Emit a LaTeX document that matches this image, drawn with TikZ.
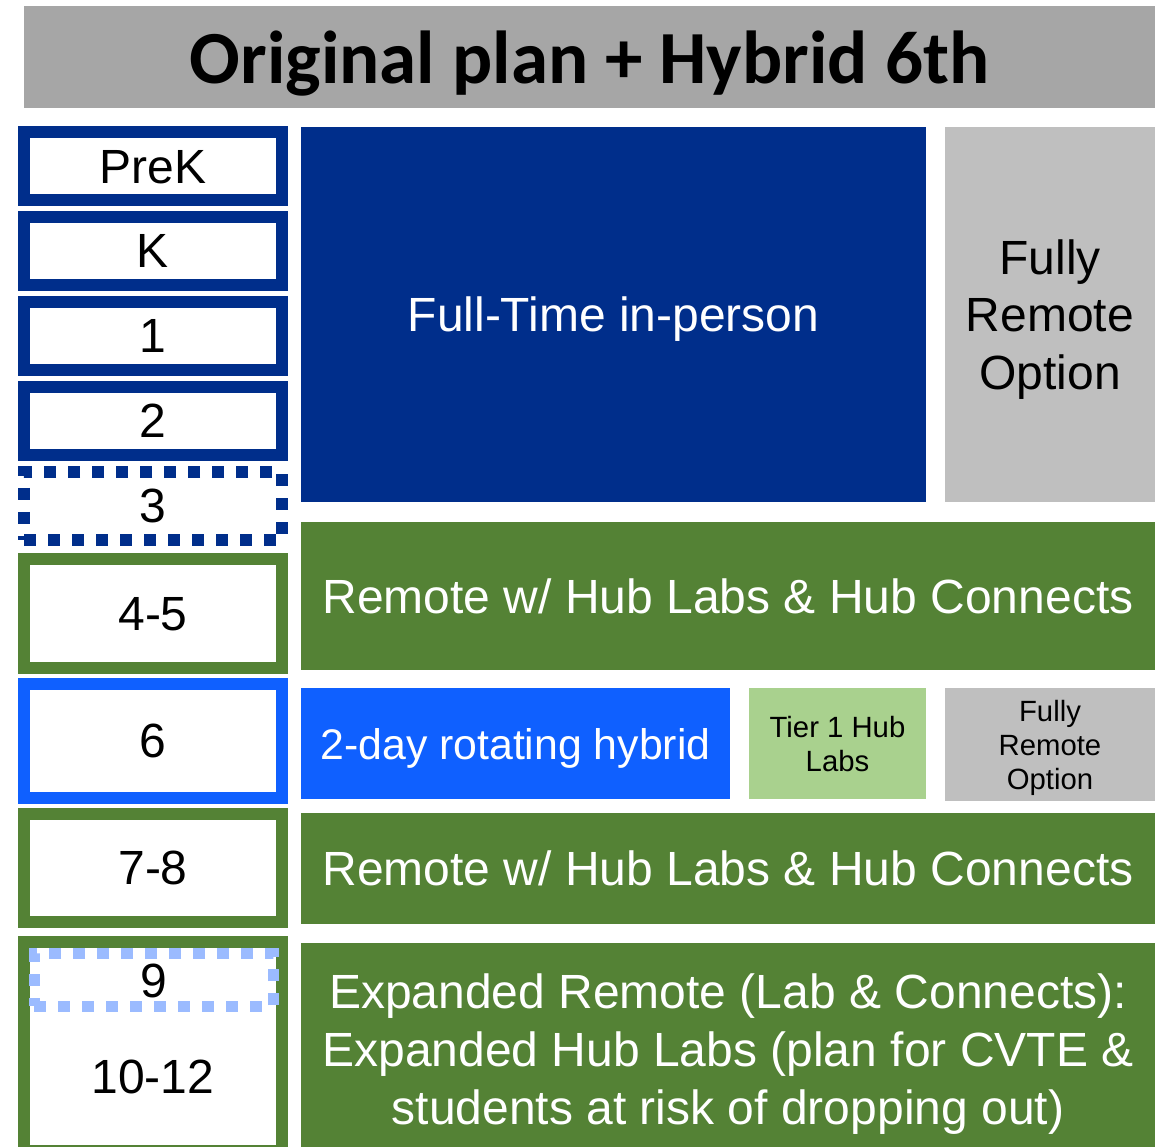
\documentclass[tikz,border=0pt]{standalone}
\usepackage{fontspec}
\setmainfont{Liberation Sans}
\newfontfamily\titlefont{Carlito}
\definecolor{navy}{RGB}{0,46,139}
\definecolor{brightblue}{RGB}{15,96,255}
\definecolor{hubgreen}{RGB}{84,130,53}
\definecolor{lightgreen}{RGB}{169,209,142}
\definecolor{remotegray}{RGB}{191,191,191}
\definecolor{titlegray}{RGB}{166,166,166}
\definecolor{paleblue}{RGB}{155,187,255}

\begin{document}
\begin{tikzpicture}[x=1pt,y=-1pt,
	grade/.style={draw, line width=12, fill=white, minimum width=258, minimum height=68, inner sep=0, outer sep=0, text depth=0pt, font=\fontsize{48}{58}\selectfont},
	dotbox/.style={grade, dash pattern=on 12pt off 12pt},
	block/.style={inner sep=0, outer sep=0, align=center, text=white, text depth=0pt, font=\fontsize{48}{58}\selectfont},
	smallblock/.style={block, text=black, font=\fontsize{29.3}{34}\selectfont}
]
\useasboundingbox (0,0) rectangle (1163,1147);

\node[fill=titlegray, minimum width=1131, minimum height=102, inner sep=0, text depth=0pt] (title) at (589.5,57.5) {\titlefont\bfseries\fontsize{75}{90}\selectfont Original plan + Hybrid 6th};

% grades
\node[grade, draw=navy] (prek) at (153,166.5) {PreK};
\node[grade, draw=navy] (gk) at (153,251) {K};
\node[grade, draw=navy] (g1) at (153,336) {1};
\node[grade, draw=navy] (g2) at (153,421) {2};
\node[dotbox, draw=navy] (g3) at (153,506) {3};
\node[grade, draw=hubgreen, minimum height=109] (g45) at (153,613.5) {4-5};
\node[grade, draw=brightblue, minimum height=114] (g6) at (153,741) {6};
\node[grade, draw=hubgreen, minimum height=108] (g78) at (153,868) {7-8};
\node[grade, draw=hubgreen, minimum height=209] (ghigh) at (153,1046.5) {};
\node[dotbox, draw=paleblue, fill=none, line width=11, minimum width=239, minimum height=53] (g9) at (153.5,979.5) {};
\node[font=\fontsize{48}{58}\selectfont, text depth=0pt] (g9text) at (153.5,981) {9};
\node[font=\fontsize{48}{58}\selectfont, text depth=0pt] (g1012) at (153,1077) {10-12};

% plans
\node[block, fill=navy, minimum width=625, minimum height=375] (fulltime) at (613.5,314.5) {Full-Time in-person};
\node[block, fill=remotegray, text=black, font=\fontsize{48}{57.5}\selectfont, minimum width=210, minimum height=375] (remote1) at (1050,314.5) {Fully\\Remote\\Option};
\node[block, fill=hubgreen, minimum width=854, minimum height=148] (hub1) at (728,596) {Remote w/ Hub Labs \& Hub Connects};
\node[block, fill=brightblue, minimum width=429, minimum height=111, font=\fontsize{42.8}{50}\selectfont] (hybrid) at (515.5,743.5) {2-day rotating hybrid};
\node[smallblock, fill=lightgreen, minimum width=177, minimum height=111] (tier1) at (837.5,743.5) {Tier 1 Hub\\Labs};
\node[smallblock, fill=remotegray, minimum width=210, minimum height=113] (remote2) at (1050,744.5) {Fully\\Remote\\Option};
\node[block, fill=hubgreen, minimum width=854, minimum height=111] (hub2) at (728,868.5) {Remote w/ Hub Labs \& Hub Connects};
\node[block, fill=hubgreen, minimum width=854, minimum height=212] (expanded) at (728,1049) {Expanded Remote (Lab \& Connects):\\Expanded Hub Labs (plan for CVTE \&\\students at risk of dropping out)};
\end{tikzpicture}
\end{document}
